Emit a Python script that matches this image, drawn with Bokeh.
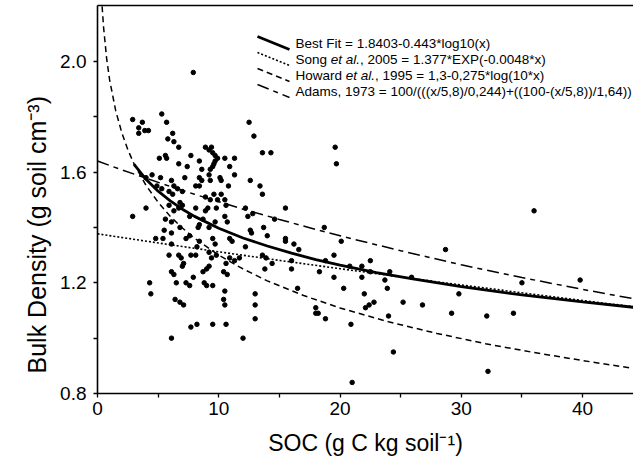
from bokeh.plotting import figure
from bokeh.models import (Range1d, FixedTicker, LinearAxis, Label, Arrow, Title,
                          PrintfTickFormatter)
from bokeh.embed import file_html
from bokeh.resources import INLINE

# ---- data ----
soc = [5.3, 2.9, 3.7, 5.7, 3.4, 4.2, 3.9, 3.4, 6.2, 5.8, 6.3, 6.7, 12.5, 12.9, 13.6, 14.3,
       8.9, 9.2, 9.5, 9.7, 9.7, 9.6, 9.5, 9.3, 9.9, 9.4, 5.6, 5.7, 5.1, 7.7, 6.7, 7.4, 8.4,
       8.6, 10.5, 11.3, 10.9, 9.2, 8.4, 8.6, 11.3, 10.1, 10.2, 9.3, 7.2, 12.6, 6.1, 5.2, 4.5,
       4.0, 13.4, 13.6, 10.8, 8.1, 8.4, 6.3, 6.6, 5.9, 4.9, 5.3, 6.2, 7.0, 9.6, 10.2, 8.9,
       9.3, 9.9, 10.5, 6.8, 7.0, 5.9, 4.0, 8.1, 9.1, 9.8, 12.2, 15.5, 10.6, 2.9, 6.3, 7.6,
       8.9, 8.7, 9.7, 10.5, 10.7, 12.4, 12.8, 14.6, 5.6, 6.1, 6.8, 12.6, 12.7, 13.7, 14.0,
       15.5, 15.5, 5.5, 6.1, 8.3, 9.2, 8.4, 7.6, 7.3, 4.8, 5.4, 6.1, 8.4, 8.2, 9.5, 9.7,
       10.9, 11.1, 12.2, 5.9, 6.7, 6.9, 7.7, 8.1, 9.2, 9.4, 9.8, 10.9, 11.3, 11.7, 13.6,
       13.9, 14.4, 7.1, 7.0, 9.2, 9.0, 10.6, 13.8, 6.1, 6.3, 8.7, 10.4, 10.7, 7.9, 6.5, 7.3,
       7.6, 8.8, 9.0, 9.5, 4.3, 4.4, 6.4, 6.8, 7.1, 10.5, 10.4, 10.5, 13.0, 13.0, 13.0, 7.7,
       8.2, 9.5, 10.6, 6.1, 12.0, 19.7, 19.6, 16.2, 16.6, 18.7, 20.1, 19.5, 16.0, 16.0, 18.3,
       18.8, 19.5, 16.5, 20.3, 20.8, 21.8, 21.8, 22.5, 22.5, 22.0, 22.1, 22.4, 22.8, 18.0,
       18.2, 18.8, 18.0, 20.9, 21.0, 23.7, 23.9, 24.1, 24.0, 24.4, 25.2, 25.9, 26.8, 28.7,
       29.2, 29.8, 32.1, 32.2, 34.3, 35.0, 36.0, 39.8, 7.9, 6.7]
bulk_density = [1.81, 1.79, 1.78, 1.78, 1.76, 1.75, 1.75, 1.74, 1.74, 1.72, 1.71, 1.69, 1.78,
       1.73, 1.67, 1.67, 1.69, 1.68, 1.67, 1.66, 1.64, 1.63, 1.62, 1.61, 1.65, 1.69, 1.66,
       1.65, 1.65, 1.66, 1.63, 1.62, 1.64, 1.61, 1.65, 1.65, 1.62, 1.59, 1.58, 1.57, 1.59,
       1.58, 1.57, 1.57, 1.58, 1.57, 1.57, 1.58, 1.59, 1.58, 1.55, 1.52, 1.55, 1.55, 1.55,
       1.55, 1.54, 1.53, 1.55, 1.54, 1.52, 1.53, 1.52, 1.52, 1.51, 1.50, 1.50, 1.50, 1.49,
       1.48, 1.48, 1.47, 1.47, 1.47, 1.47, 1.47, 1.47, 1.48, 1.44, 1.46, 1.44, 1.46, 1.43,
       1.42, 1.44, 1.42, 1.44, 1.45, 1.43, 1.43, 1.42, 1.40, 1.39, 1.38, 1.40, 1.37, 1.36,
       1.35, 1.39, 1.38, 1.40, 1.40, 1.41, 1.37, 1.36, 1.36, 1.36, 1.34, 1.35, 1.33, 1.36,
       1.34, 1.36, 1.35, 1.33, 1.30, 1.30, 1.29, 1.30, 1.30, 1.31, 1.29, 1.30, 1.29, 1.28,
       1.29, 1.30, 1.29, 1.27, 1.27, 1.26, 1.26, 1.25, 1.27, 1.25, 1.24, 1.23, 1.24, 1.24,
       1.23, 1.22, 1.20, 1.20, 1.19, 1.20, 1.19, 1.19, 1.20, 1.16, 1.14, 1.13, 1.12, 1.17,
       1.14, 1.12, 1.16, 1.12, 1.07, 1.04, 1.05, 1.05, 1.05, 1.00, 1.00, 1.63, 1.69, 1.34,
       1.32, 1.40, 1.35, 1.30, 1.28, 1.25, 1.24, 1.28, 1.22, 1.18, 1.18, 1.26, 1.26, 1.22,
       1.28, 1.24, 1.16, 1.11, 1.12, 1.13, 1.11, 1.09, 1.07, 1.09, 1.05, 0.84, 1.21, 1.18,
       1.24, 1.08, 0.95, 1.13, 1.22, 1.12, 1.32, 1.09, 1.16, 1.08, 0.88, 1.09, 1.20, 1.46,
       1.21, 1.96, 1.47]

# curves
fit_x = [3, 4, 5, 6, 7, 8, 10, 12, 14, 16, 18, 20, 23, 26, 30, 35, 40, 44.5]
fit_y = [1.629, 1.574, 1.531, 1.496, 1.466, 1.440, 1.397, 1.362, 1.333, 1.307, 1.284,
         1.264, 1.237, 1.214, 1.186, 1.156, 1.131, 1.110]
song_x = [0, 5, 10, 15, 20, 25, 30, 35, 40, 44.5]
song_y = [1.377, 1.344, 1.312, 1.281, 1.251, 1.221, 1.192, 1.164, 1.136, 1.112]
howard_x = [0.38, 0.5, 0.75, 1, 1.5, 2, 2.5, 3, 4, 5, 6, 7, 8, 10, 12, 14, 17, 20, 24,
            28, 32, 36, 40, 44.5]
howard_y = [2.199, 2.124, 2.012, 1.933, 1.822, 1.743, 1.681, 1.631, 1.552, 1.491, 1.440,
            1.398, 1.361, 1.300, 1.250, 1.207, 1.154, 1.109, 1.059, 1.017, 0.980, 0.948,
            0.919, 0.889]
adams_x = [0, 2, 4, 6, 8, 10, 12, 15, 18, 21, 25, 30, 35, 40, 44.5]
adams_y = [1.640, 1.608, 1.578, 1.548, 1.520, 1.493, 1.466, 1.429, 1.393, 1.359, 1.316,
           1.265, 1.219, 1.176, 1.140]

x_ticks = [0, 10, 20, 30, 40]
x_minor = [5, 15, 25, 35]
y_ticks = [0.8, 1.2, 1.6, 2.0]
y_minor = [1.0, 1.4, 1.8]

# legend texts: (plain part, italic part, plain rest)
legend_parts = [
    ("Best Fit = 1.8403-0.443*log10(x)", "", ""),
    ("Song ", "et al.", ", 2005 = 1.377*EXP(-0.0048*x)"),
    ("Howard ", "et al.", ", 1995 = 1,3-0,275*log(10*x)"),
    ("Adams, 1973 = 100/(((x/5,8)/0,244)+((100-(x/5,8))/1,64))", "", ""),
]
x_title = "SOC (g C kg soil\u207b\u00b9)"
y_title = "Bulk Density (g soil cm\u207b\u00b3)"

FONT = "Liberation Sans"
LEG_PX = 13.5
# Arial / Liberation Sans advance widths (em) for the characters placed before other parts
ADV = {"S": .667, "o": .556, "n": .556, "g": .556, " ": .278, "H": .722, "w": .722,
       "a": .556, "r": .333, "d": .556, "e": .556, "t": .278, "l": .222, ".": .278}


def text_width(s):
    return sum(ADV.get(c, .556) for c in s) * LEG_PX


FRAME_L, FRAME_B = 97, 393  # frame corner in canvas pixels

p = figure(width=633, height=472, output_backend="svg", toolbar_location=None,
           x_range=Range1d(0, 44.2), y_range=Range1d(0.8, 2.202),
           min_border_left=97, min_border_right=0, min_border_top=5, min_border_bottom=79)
p.outline_line_color = None
p.xgrid.visible = False
p.ygrid.visible = False
p.background_fill_color = "white"
p.border_fill_color = "white"

p.scatter(soc, bulk_density, size=4.5, color="black")

styles = [dict(line_width=2.8, line_dash="solid"),
          dict(line_width=1.6, line_dash="2 2"),
          dict(line_width=1.5, line_dash="6 4"),
          dict(line_width=1.5, line_dash="12 5 5 5")]
for (xs, ys), st in zip(((fit_x, fit_y), (song_x, song_y), (howard_x, howard_y),
                         (adams_x, adams_y)), styles):
    p.line(xs, ys, line_color="black", **st)

for ax, ticks, minor in ((p.xaxis[0], x_ticks, x_minor), (p.yaxis[0], y_ticks, y_minor)):
    ax.ticker = FixedTicker(ticks=ticks, minor_ticks=minor)
    ax.axis_line_width = 1.6
    ax.axis_line_color = "black"
    ax.major_tick_line_color = "black"
    ax.minor_tick_line_color = "black"
    ax.major_tick_line_width = 1.3
    ax.minor_tick_line_width = 1.3
    ax.major_tick_in = 0
    ax.major_tick_out = 4
    ax.minor_tick_in = 0
    ax.minor_tick_out = 4
    ax.major_label_text_font = FONT
    ax.major_label_text_font_size = "19px"
    ax.major_label_text_color = "black"
    ax.axis_label_text_font = FONT
    ax.axis_label_text_font_size = "23px"
    ax.axis_label_text_font_style = "normal"
    ax.axis_label_text_color = "black"

p.xaxis[0].axis_label = x_title
p.xaxis[0].major_label_standoff = 4
p.xaxis[0].axis_label_standoff = 12
p.yaxis[0].major_label_standoff = 7
p.yaxis[0].formatter = PrintfTickFormatter(format="%.1f")

# y title placed like the original: starts a little above the frame's bottom
p.add_layout(Title(text=y_title, align="left", offset=20, standoff=14,
                   text_font=FONT, text_font_size="25px", text_font_style="normal",
                   text_color="black"), "left")

top = LinearAxis(ticker=FixedTicker(ticks=[]), major_label_text_font_size="0px",
                 major_tick_out=0, major_tick_in=0, minor_tick_out=0, minor_tick_in=0,
                 axis_line_width=1.6, axis_line_color="black")
p.add_layout(top, "above")

# legend: slanted line samples and texts, in screen pixels
row_y = [43, 59, 75, 91]
for cy, st, (a, b, c) in zip(row_y, styles, legend_parts):
    p.add_layout(Arrow(end=None, start=None, x_start=257 - FRAME_L, y_start=FRAME_B - (cy - 7),
                       x_end=289 - FRAME_L, y_end=FRAME_B - (cy + 6),
                       start_units="screen", end_units="screen", line_color="black",
                       line_width=st["line_width"], line_dash=st["line_dash"]))
    positions = [295, 295 + text_width(a), 295 + text_width(a) + text_width(b)]
    for part, style, x0 in zip((a, b, c), ("normal", "italic", "normal"), positions):
        if not part:
            continue
        p.add_layout(Label(x=x0 - FRAME_L, y=FRAME_B - cy, x_units="screen", y_units="screen",
                           text=part, text_align="left", text_baseline="middle",
                           text_font=FONT, text_font_size=f"{LEG_PX}px",
                           text_font_style=style, text_color="black"))

open("out.html", "w").write(file_html(p, INLINE))
